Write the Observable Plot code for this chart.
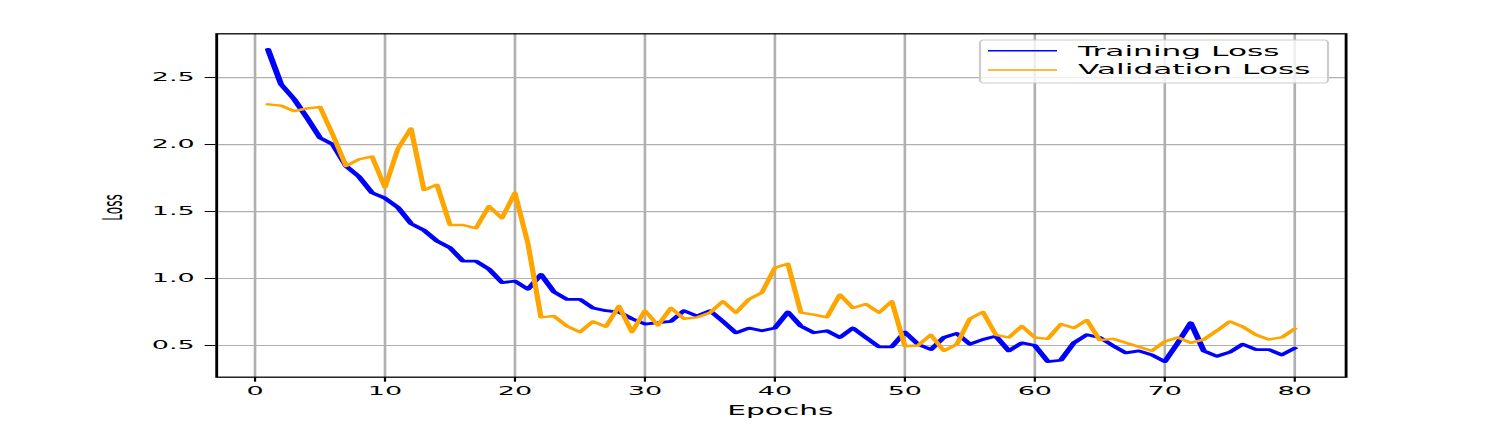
<!DOCTYPE html>
<html>
<head>
<meta charset="utf-8">
<script src="https://cdn.jsdelivr.net/npm/d3@7"></script>
<script src="https://cdn.jsdelivr.net/npm/@observablehq/plot@0.6"></script>
<style>
  html, body { margin: 0; padding: 0; background: white; }
  #chart { width: 1495px; height: 426px; overflow: hidden; }
</style>
</head>
<body>
<div id="chart"></div>
<script>
// ---- data ----
const epochs = d3.range(1, 81);
const trainingLoss = [
  2.71, 2.45, 2.34, 2.20, 2.05, 2.00, 1.84, 1.76, 1.64, 1.60,
  1.53, 1.41, 1.36, 1.28, 1.23, 1.13, 1.13, 1.07, 0.97, 0.98,
  0.92, 1.03, 0.90, 0.845, 0.845, 0.78, 0.76, 0.75, 0.70, 0.66,
  0.67, 0.68, 0.76, 0.72, 0.76, 0.68, 0.595, 0.63, 0.61, 0.63,
  0.75, 0.645, 0.595, 0.61, 0.56, 0.63, 0.56, 0.49, 0.49, 0.60,
  0.51, 0.47, 0.56, 0.59, 0.51, 0.545, 0.57, 0.46, 0.52, 0.50,
  0.38, 0.39, 0.52, 0.58, 0.56, 0.50, 0.445, 0.46, 0.43, 0.38,
  0.52, 0.67, 0.46, 0.42, 0.45, 0.51, 0.47, 0.47, 0.43, 0.48
];
const validationLoss = [
  2.30, 2.29, 2.25, 2.27, 2.28, 2.07, 1.84, 1.89, 1.91, 1.68,
  1.97, 2.12, 1.66, 1.70, 1.40, 1.40, 1.375, 1.54, 1.45, 1.64,
  1.26, 0.71, 0.72, 0.645, 0.60, 0.68, 0.64, 0.795, 0.60, 0.76,
  0.65, 0.78, 0.70, 0.71, 0.745, 0.83, 0.745, 0.845, 0.895, 1.08,
  1.11, 0.745, 0.73, 0.71, 0.88, 0.78, 0.81, 0.745, 0.83, 0.495,
  0.50, 0.58, 0.46, 0.51, 0.70, 0.75, 0.58, 0.56, 0.645, 0.56,
  0.55, 0.66, 0.63, 0.69, 0.54, 0.55, 0.52, 0.49, 0.46, 0.53,
  0.56, 0.52, 0.545, 0.61, 0.68, 0.64, 0.58, 0.545, 0.56, 0.625
];
const seriesNames = ["Training Loss", "Validation Loss"];
const seriesColors = ["blue", "orange"];
const xTicks = [0, 10, 20, 30, 40, 50, 60, 70, 80];
const yTicks = [0.5, 1.0, 1.5, 2.0, 2.5];
const xLabel = "Epochs";
const yLabel = "Loss";

// ---- build tables ----
const train = epochs.map((e, i) => ({epoch: e, loss: trainingLoss[i]}));
const valid = epochs.map((e, i) => ({epoch: e, loss: validationLoss[i]}));

// matplotlib-like 5% margins
const xExt = d3.extent(epochs);
const yExt = d3.extent([...trainingLoss, ...validationLoss]);
const xPad = (xExt[1] - xExt[0]) * 0.05;
const yPad = (yExt[1] - yExt[0]) * 0.05;

// The reference is horizontally stretched; draw in a narrower space and stretch.
const OUT_W = 1495, H = 426;
const W = 680;
const S = OUT_W / W;

const marginLeft = 215.6 / S;
const marginRight = 150 / S;
const marginTop = 33.3;
const marginBottom = 49.3;

const svg = Plot.plot({
  width: W,
  height: H,
  marginLeft, marginRight, marginTop, marginBottom,
  style: {fontFamily: "DejaVu Sans", fontSize: "12.3px", color: "black", background: "white"},
  x: {domain: [xExt[0] - xPad, xExt[1] + xPad], ticks: xTicks, tickSize: 5, tickPadding: 4.5, label: null},
  y: {domain: [yExt[0] - yPad, yExt[1] + yPad], ticks: yTicks, tickFormat: d3.format(".1f"), tickSize: 5, tickPadding: 5, label: null},
  marks: [
    Plot.ruleX(xTicks, {stroke: "#b0b0b0", strokeWidth: 1.2}),
    Plot.ruleY(yTicks, {stroke: "#b0b0b0", strokeWidth: 1.2}),
    Plot.line(train, {x: "epoch", y: "loss", stroke: seriesColors[0], strokeWidth: 2.8}),
    Plot.line(valid, {x: "epoch", y: "loss", stroke: seriesColors[1], strokeWidth: 2.4}),
    Plot.frame({stroke: "black", strokeWidth: 1.3})
  ]
});

svg.setAttribute("width", OUT_W);
svg.setAttribute("height", H);
svg.setAttribute("viewBox", `0 0 ${W} ${H}`);
svg.setAttribute("preserveAspectRatio", "none");
svg.style.width = OUT_W + "px";
svg.style.height = H + "px";
svg.style.maxWidth = "none";

const root = d3.select(svg);
const font = "DejaVu Sans";

// axis labels
root.append("text")
  .attr("x", (marginLeft + (W - marginRight)) / 2)
  .attr("y", 415)
  .attr("text-anchor", "middle")
  .attr("font-family", font)
  .attr("font-size", 13.5)
  .attr("fill", "black")
  .text(xLabel);

root.append("text")
  .attr("transform", `translate(${113 / S},207.5) rotate(-90)`)
  .attr("text-anchor", "middle")
  .attr("dy", "0.35em")
  .attr("font-family", font)
  .attr("font-size", 12)
  .attr("fill", "black")
  .text(yLabel);

// legend
const lg = root.append("g").attr("text-anchor", "start");
lg.append("rect")
  .attr("x", 980 / S).attr("y", 40)
  .attr("width", (1328 - 980) / S).attr("height", 43)
  .attr("rx", 1.5).attr("ry", 3)
  .attr("fill", "white").attr("fill-opacity", 0.8)
  .attr("stroke", "#cccccc").attr("stroke-width", 1);
const rowsY = [50.7, 70];
const textY = [56, 74.5];
seriesNames.forEach((name, i) => {
  lg.append("line")
    .attr("x1", 988 / S).attr("x2", 1057 / S)
    .attr("y1", rowsY[i]).attr("y2", rowsY[i])
    .attr("stroke", seriesColors[i]).attr("stroke-width", 1.6);
  lg.append("text")
    .attr("x", 1078 / S).attr("y", textY[i])
    .attr("text-anchor", "start")
    .attr("font-family", font).attr("font-size", 14.2)
    .attr("fill", "black")
    .text(name);
});

document.getElementById("chart").appendChild(svg);
</script>
</body>
</html>
